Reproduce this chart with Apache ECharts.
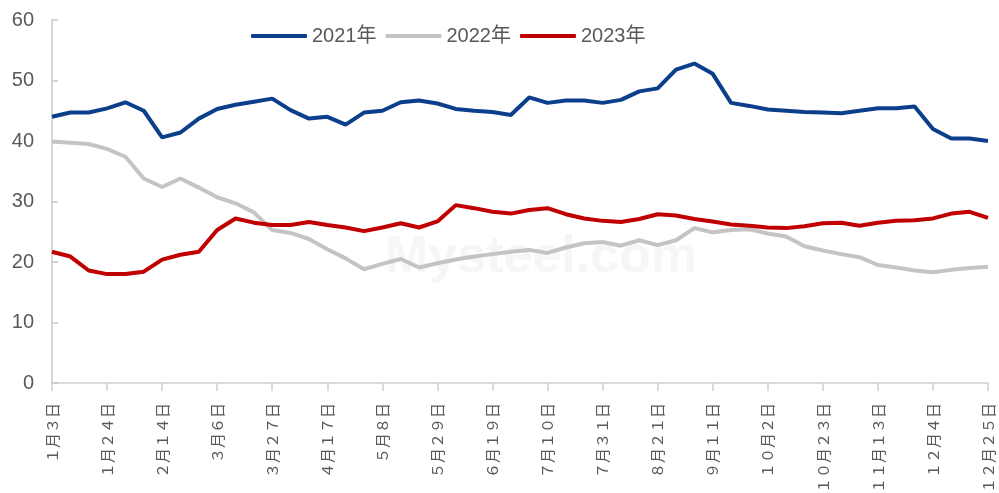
<!DOCTYPE html>
<html>
<head>
<meta charset="utf-8">
<script src="https://cdn.jsdelivr.net/npm/echarts@6/dist/echarts.min.js"></script>
<style>
  html, body { margin: 0; padding: 0; background: #fff; }
  #chart { width: 999px; height: 493px; }
</style>
</head>
<body>
<div id="chart"></div>
<script>
// 周度日期
const dates = [
  '1月3日', '1月10日', '1月17日', '1月24日', '1月31日', '2月7日', '2月14日', '2月21日', '2月28日',
  '3月6日', '3月13日', '3月20日', '3月27日', '4月3日', '4月10日', '4月17日', '4月24日',
  '5月1日', '5月8日', '5月15日', '5月22日', '5月29日', '6月5日', '6月12日', '6月19日', '6月26日',
  '7月3日', '7月10日', '7月17日', '7月24日', '7月31日', '8月7日', '8月14日', '8月21日', '8月28日',
  '9月4日', '9月11日', '9月18日', '9月25日', '10月2日', '10月9日', '10月16日', '10月23日', '10月30日',
  '11月6日', '11月13日', '11月20日', '11月27日', '12月4日', '12月11日', '12月18日', '12月25日'
]

const y2021 = [
  44.0, 44.7, 44.7, 45.4, 46.4, 45.0, 40.6, 41.4, 43.7, 45.3, 46.0, 46.5, 47.0,
  45.1, 43.7, 44.0, 42.7, 44.7, 45.0, 46.4, 46.7, 46.2, 45.3, 45.0, 44.8, 44.3,
  47.2, 46.3, 46.7, 46.7, 46.3, 46.8, 48.2, 48.7, 51.8, 52.8, 51.1, 46.3,
  45.8, 45.2, 45.0, 44.8, 44.7, 44.6, 45.0, 45.4, 45.4, 45.7, 42.0, 40.4, 40.4, 40.0
]

const y2022 = [
  39.9, 39.7, 39.5, 38.7, 37.4, 33.8, 32.4, 33.8, 32.3, 30.7, 29.7, 28.2, 25.3,
  24.8, 23.8, 22.1, 20.6, 18.8, 19.7, 20.5, 19.1, 19.8, 20.4, 20.9, 21.3, 21.7,
  22.0, 21.5, 22.4, 23.1, 23.3, 22.7, 23.6, 22.8, 23.6, 25.6, 24.9, 25.3,
  25.4, 24.7, 24.2, 22.6, 21.9, 21.3, 20.8, 19.5, 19.1, 18.6, 18.3, 18.7, 19.0, 19.2
]

const y2023 = [
  21.7, 20.9, 18.6, 18.0, 18.0, 18.4, 20.4, 21.2, 21.7, 25.3, 27.2, 26.5, 26.1,
  26.1, 26.6, 26.1, 25.7, 25.1, 25.7, 26.4, 25.7, 26.7, 29.4, 28.9, 28.3, 28.0,
  28.6, 28.9, 27.9, 27.2, 26.8, 26.6, 27.1, 27.9, 27.7, 27.1, 26.7, 26.2,
  26.0, 25.7, 25.6, 25.9, 26.4, 26.5, 26.0, 26.5, 26.8, 26.9, 27.2, 28.0, 28.3, 27.3
]

const chart = echarts.init(document.getElementById('chart'))

// 竖排标签用全角数字，字距和原图一致
const toFull = s => s.replace(/[0-9]/g, d => String.fromCharCode(d.charCodeAt(0) + 0xFEE0))

const mkLine = (name, data, color) => ({
  name,
  type: 'line',
  data,
  symbol: 'none',
  lineStyle: { width: 4, color },
  itemStyle: { color }
})

const option = {
  backgroundColor: '#fff',
  graphic: [
    {
      type: 'text',
      left: 385,
      top: 232,
      z: -1,
      style: {
        text: 'Mysteel.com',
        fontSize: 52,
        fontWeight: 'bold',
        fontFamily: 'Liberation Sans',
        fill: 'rgba(210,215,225,0.22)'
      }
    }
  ],
  legend: {
    top: 21,
    left: 246,
    itemWidth: 56,
    itemHeight: 4,
    itemGap: 9,
    icon: 'roundRect',
    textStyle: { fontSize: 20, color: '#595959', fontFamily: 'Liberation Sans, Noto Sans CJK SC' },
    data: ['2021年', '2022年', '2023年']
  },
  grid: {
    left: 52,
    right: 11,
    top: 20,
    bottom: 110,
    outerBoundsMode: 'none'
  },
  xAxis: {
    type: 'category',
    data: dates,
    boundaryGap: false,
    axisLine: { lineStyle: { color: '#d0d0d0', width: 1.5 } },
    axisTick: {
      show: true,
      interval: 2,
      length: 8,
      lineStyle: { color: '#d0d0d0', width: 1.5 }
    },
    axisLabel: {
      interval: 2,
      rotate: 90,
      fontSize: 15,
      color: '#595959',
      fontFamily: 'Noto Sans CJK SC',
      margin: 20,
      formatter: toFull
    }
  },
  yAxis: {
    type: 'value',
    min: 0,
    max: 60,
    interval: 10,
    axisLine: { show: true, lineStyle: { color: '#c8c8c8', width: 1.5 } },
    axisTick: {
      show: true,
      inside: true,
      length: 6,
      lineStyle: { color: '#c8c8c8', width: 1.5 }
    },
    splitLine: { show: false },
    axisLabel: {
      fontSize: 20,
      color: '#595959',
      fontFamily: 'Liberation Sans',
      margin: 18
    }
  },
  series: [
    mkLine('2021年', y2021, '#0b3f8c'),
    mkLine('2022年', y2022, '#c4c4c4'),
    mkLine('2023年', y2023, '#c00000')
  ]
}

chart.setOption(option)
</script>
</body>
</html>
